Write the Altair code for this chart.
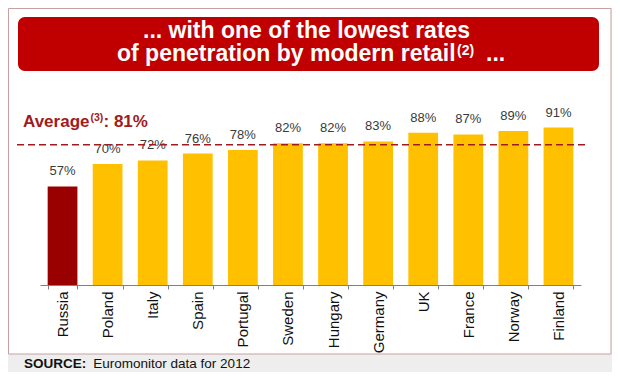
import altair as alt
import pandas as pd

# ---- data ----
countries = ["Russia", "Poland", "Italy", "Spain", "Portugal", "Sweden",
             "Hungary", "Germany", "UK", "France", "Norway", "Finland"]
values = [57, 70, 72, 76, 78, 82, 82, 83, 88, 87, 89, 91]
groups = ["Russia"] + ["Other"] * 11
average = [81]

title_line1 = "... with one of the lowest rates"
title_line2 = "of penetration by modern retail"
title_sup = "(2)"
title_tail = "..."
avg_word = "Average"
avg_sup = "(3)"
avg_value = ": 81%"
source_head = "SOURCE:"
source_text = "Euromonitor data for 2012"

df = pd.DataFrame({"country": countries, "value": values, "group": groups})
df["label"] = [f"{v}%" for v in values]
avg_df = pd.DataFrame({"avg": average})

FONT = "Liberation Sans"
W, H = 541, 173
RED = "#C00000"
DARKRED = "#990000"
GOLD = "#FFC000"
AVG_COLOR = "#A01A20"


def one():
    return alt.Data(values=[{"k": 1}])


def txt(s, x, y, size, bold=False, color="white", align="left"):
    return alt.Chart(one()).mark_text(
        text=s, fontSize=size, fontWeight="bold" if bold else "normal",
        font=FONT, color=color, align=align, baseline="alphabetic"
    ).encode(x=alt.value(x), y=alt.value(y))


y_scale = alt.Scale(domain=[0, 100])
x_enc = alt.X(
    "country:N", sort=countries,
    scale=alt.Scale(paddingInner=0.34, paddingOuter=0.17),
    axis=alt.Axis(title=None, labelAngle=-90, labelFont=FONT, labelFontSize=15,
                  labelColor="#111111", labelPadding=2, labelOverlap=False,
                  tickBand="extent", tickSize=4, tickColor="#808080",
                  domainColor="#808080", grid=False, zindex=1),
)

panel = alt.Chart(one()).mark_rect(fill="white", stroke="#c8a0a0", strokeWidth=1).encode(
    x=alt.value(-31.5), x2=alt.value(571), y=alt.value(-103.5), y2=alt.value(242))
banner = alt.Chart(one()).mark_rect(fill=RED, cornerRadius=7).encode(
    x=alt.value(-22), x2=alt.value(559), y=alt.value(-95), y2=alt.value(-41))

bars = alt.Chart(df).mark_bar().encode(
    x=x_enc,
    y=alt.Y("value:Q", scale=y_scale, axis=None),
    color=alt.Color("group:N", scale=alt.Scale(domain=["Russia", "Other"], range=[DARKRED, GOLD]), legend=None),
)
labels = alt.Chart(df).mark_text(dy=-11, baseline="alphabetic", fontSize=13, font=FONT, color="#3a3a3a").encode(
    x=x_enc, y=alt.Y("value:Q", scale=y_scale, axis=None), text="label:N")

avg_rule = alt.Chart(avg_df).mark_rule(color=AVG_COLOR, strokeDash=[7, 4], strokeWidth=1.5).encode(
    y=alt.Y("avg:Q", scale=y_scale, axis=None), x=alt.value(-23), x2=alt.value(547))

texts = [
    txt(title_line1, 103, -74, 23, bold=True),
    txt(title_line2, 77, -51, 23, bold=True),
    txt(title_sup, 417, -57, 14, bold=True),
    txt(title_tail, 446, -51, 23, bold=True),
    txt(avg_word, -17, 15, 17, bold=True, color=AVG_COLOR),
    txt(avg_sup, 50.5, 9, 10.5, bold=True, color=AVG_COLOR),
    txt(avg_value, 63.5, 15, 17, bold=True, color=AVG_COLOR),
    txt(source_head, -16, 256, 13.5, bold=True, color="#111111"),
    txt(source_text, 53.3, 256, 13.5, color="#111111"),
]

chart = alt.layer(panel, banner, bars, labels, avg_rule, *texts).properties(
    width=W, height=H,
    autosize=alt.AutoSizeParams(type="none"),
    padding={"left": 32, "top": 104, "right": 31, "bottom": 87},
    background="#eeeeee",
).configure_view(strokeWidth=0)

chart.save("out.html", embed_options={"renderer": "svg", "actions": False})
